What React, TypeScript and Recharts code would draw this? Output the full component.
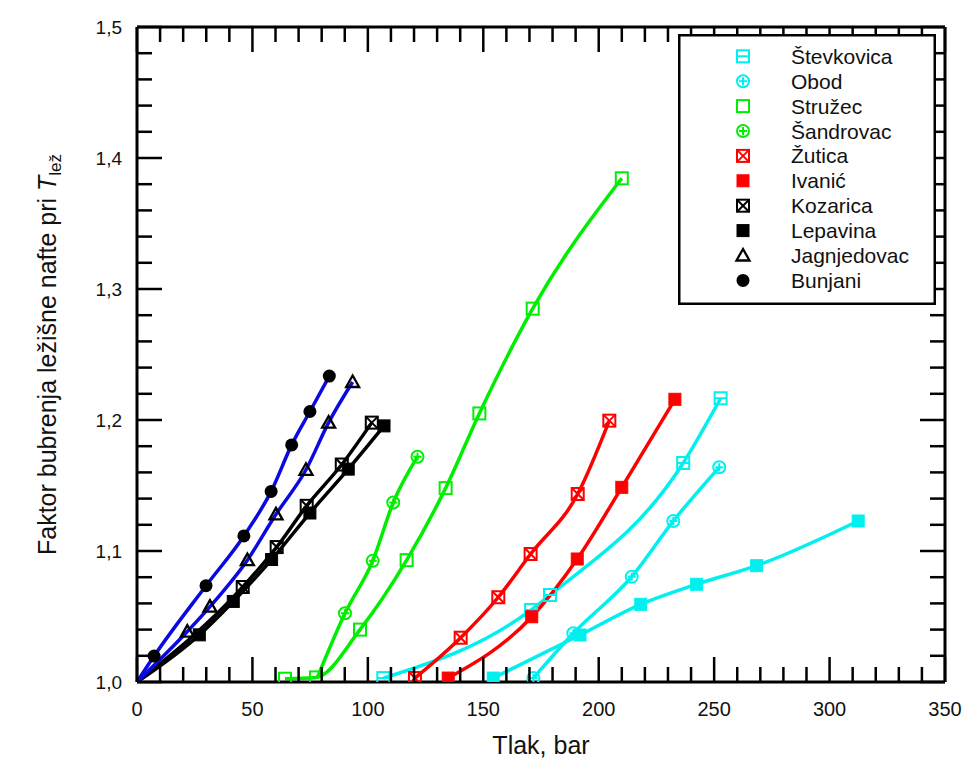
import React from 'react';
import { LineChart, Line, XAxis, YAxis, Legend, ReferenceLine } from 'recharts';

// axis ticks
const xTicks = [0, 10, 20, 30, 40, 50, 60, 70, 80, 90, 100, 110, 120, 130, 140, 150, 160, 170, 180, 190, 200, 210, 220, 230, 240, 250, 260, 270, 280, 290, 300, 310, 320, 330, 340, 350];
const yTicks = [1.0, 1.02, 1.04, 1.06, 1.08, 1.1, 1.12, 1.14, 1.16, 1.18, 1.2, 1.22, 1.24, 1.26, 1.28, 1.3, 1.32, 1.34, 1.36, 1.38, 1.4, 1.42, 1.44, 1.46, 1.48, 1.5];

// tlak (bar) / faktor bubrenja per polje
const stevkovicaP = [106.7, 170.7, 178.9, 236.6, 252.8];
const stevkovicaB = [1.003, 1.055, 1.0664, 1.1672, 1.2166];
const stevkovica2P = [154.3, 191.9, 218.2, 242.4, 268.4, 312.4];
const stevkovica2B = [1.003, 1.0359, 1.0593, 1.0746, 1.0888, 1.1229];
const obodP = [171.7, 189.0, 214.3, 232.3, 252.2];
const obodB = [1.003, 1.0372, 1.0804, 1.1229, 1.1639];
const struzecP = [64.1, 77.5, 96.6, 116.8, 133.7, 148.3, 171.4, 210.0];
const struzecB = [1.0025, 1.0035, 1.040, 1.093, 1.148, 1.205, 1.285, 1.3845];
const sandrovacP = [78, 90.1, 102.1, 111.0, 121.5];
const sandrovacB = [1.003, 1.0525, 1.0925, 1.137, 1.172];
const huticaP = [120.4, 140.2, 156.5, 170.5, 190.9, 204.6];
const huticaB = [1.003, 1.0338, 1.0647, 1.0977, 1.1435, 1.1995];
const ivanicP = [134.8, 171.0, 190.7, 210.0, 233.0];
const ivanicB = [1.003, 1.0498, 1.0939, 1.1486, 1.2158];
const kozaricaP = [0, 45.8, 60.5, 73.5, 88.7, 101.7];
const kozaricaB = [1.0, 1.0725, 1.103, 1.1345, 1.166, 1.198];
const lepavinaP = [0, 27.0, 41.7, 58.3, 74.9, 91.5, 107.0];
const lepavinaB = [1.0, 1.036, 1.0615, 1.0935, 1.129, 1.1625, 1.1955];
const jagnjedovacP = [0, 21.8, 31.6, 47.8, 60.2, 73.2, 83.0, 93.4];
const jagnjedovacB = [1.0, 1.0385, 1.0575, 1.093, 1.128, 1.162, 1.198, 1.229];
const bunjaniP = [0, 7.4, 29.9, 46.3, 58.1, 67.0, 74.9, 83.3];
const bunjaniB = [1.0, 1.0198, 1.0735, 1.1115, 1.1455, 1.181, 1.2065, 1.2335];

const CYAN = '#00f0f0';
const GREEN = '#00ee00';
const RED = '#ff0000';
const BLUE = '#0a0ae0';
const BLACK = '#000000';
const FONT = '"Liberation Sans", Arial, sans-serif';

// chart box
const W = 960;
const H = 755;
const M = { top: 19, right: 23, bottom: 0, left: 0 };
const Y_AXIS_W = 129;
const X_AXIS_H = 81;
const PLOT_W = W - M.left - M.right - Y_AXIS_W;
const PLOT_H = H - M.top - M.bottom - X_AXIS_H;

const zip = (p: number[], b: number[]) => p.map((v, i) => ({ p: v, b: b[i] }));

type Kind = 'squareBar' | 'circleCross' | 'square' | 'squareX' | 'squareFill' | 'triangle' | 'circleFill';

const series = [
  { name: 'Števkovica', data: zip(stevkovicaP, stevkovicaB), line: CYAN, mark: CYAN, kind: 'squareBar', legend: true, skipFirst: false },
  { name: 'Števkovica 2', data: zip(stevkovica2P, stevkovica2B), line: CYAN, mark: CYAN, kind: 'squareFill', legend: false, skipFirst: false },
  { name: 'Obod', data: zip(obodP, obodB), line: CYAN, mark: CYAN, kind: 'circleCross', legend: true, skipFirst: false },
  { name: 'Stružec', data: zip(struzecP, struzecB), line: GREEN, mark: GREEN, kind: 'square', legend: true, skipFirst: false },
  { name: 'Šandrovac', data: zip(sandrovacP, sandrovacB), line: GREEN, mark: GREEN, kind: 'circleCross', legend: true, skipFirst: true },
  { name: 'Žutica', data: zip(huticaP, huticaB), line: RED, mark: RED, kind: 'squareX', legend: true, skipFirst: false },
  { name: 'Ivanić', data: zip(ivanicP, ivanicB), line: RED, mark: RED, kind: 'squareFill', legend: true, skipFirst: false },
  { name: 'Kozarica', data: zip(kozaricaP, kozaricaB), line: BLACK, mark: BLACK, kind: 'squareX', legend: true, skipFirst: true },
  { name: 'Lepavina', data: zip(lepavinaP, lepavinaB), line: BLACK, mark: BLACK, kind: 'squareFill', legend: true, skipFirst: true },
  { name: 'Jagnjedovac', data: zip(jagnjedovacP, jagnjedovacB), line: BLUE, mark: BLACK, kind: 'triangle', legend: true, skipFirst: true },
  { name: 'Bunjani', data: zip(bunjaniP, bunjaniB), line: BLUE, mark: BLACK, kind: 'circleFill', legend: true, skipFirst: true },
];

function Marker({ kind, color, cx, cy }: { kind: string; color: string; cx: number; cy: number }) {
  const s = 6;
  const st = { stroke: color, strokeWidth: 2 };
  switch (kind as Kind) {
    case 'square':
      return <rect x={cx - s} y={cy - s} width={2 * s} height={2 * s} fill="none" {...st} />;
    case 'squareBar':
      return (
        <g>
          <rect x={cx - s} y={cy - s} width={2 * s} height={2 * s} fill="none" {...st} />
          <line x1={cx - s} x2={cx + s} y1={cy} y2={cy} {...st} />
        </g>
      );
    case 'squareX':
      return (
        <g>
          <rect x={cx - s} y={cy - s} width={2 * s} height={2 * s} fill="none" {...st} />
          <line x1={cx - s} x2={cx + s} y1={cy - s} y2={cy + s} {...st} />
          <line x1={cx - s} x2={cx + s} y1={cy + s} y2={cy - s} {...st} />
        </g>
      );
    case 'squareFill':
      return <rect x={cx - s} y={cy - s} width={2 * s} height={2 * s} fill={color} stroke={color} strokeWidth={1} />;
    case 'circleCross':
      return (
        <g>
          <circle cx={cx} cy={cy} r={s} fill="none" {...st} />
          <line x1={cx - 4} x2={cx + 4} y1={cy} y2={cy} {...st} />
          <line x1={cx} x2={cx} y1={cy - 4} y2={cy + 4} {...st} />
        </g>
      );
    case 'circleFill':
      return <circle cx={cx} cy={cy} r={6.5} fill={color} />;
    case 'triangle':
      return (
        <polygon
          points={`${cx},${cy - 6.5} ${cx + 6.5},${cy + 5} ${cx - 6.5},${cy + 5}`}
          fill="none"
          stroke={color}
          strokeWidth={2.3}
        />
      );
  }
  return null;
}

const TICK = { stroke: '#000', strokeWidth: 2.5 };
const isMajorX = (v: number) => v % 50 === 0;
const isMajorY = (v: number) => Math.round(v * 100) % 10 === 0;

// bottom tick + matching tick on the top edge of the frame
function XTick(props: any) {
  const { x, y, payload } = props;
  const len = isMajorX(payload.value) ? 25 : 15;
  const top = y - PLOT_H;
  return (
    <g>
      <line x1={x} x2={x} y1={y} y2={y - len} {...TICK} />
      <line x1={x} x2={x} y1={top} y2={top + len} {...TICK} />
      {isMajorX(payload.value) && (
        <text x={x} y={y + 34} textAnchor="middle" fontSize={20} fontFamily={FONT} fill="#111">
          {payload.value}
        </text>
      )}
    </g>
  );
}

// left tick + matching tick on the right edge of the frame
function YTick(props: any) {
  const { x, y, payload } = props;
  const len = isMajorY(payload.value) ? 25 : 15;
  const right = x + PLOT_W;
  return (
    <g>
      <line x1={x} x2={x + len} y1={y} y2={y} {...TICK} />
      <line x1={right} x2={right - len} y1={y} y2={y} {...TICK} />
      {isMajorY(payload.value) && (
        <text x={x - 15} y={y} dy="0.36em" textAnchor="end" fontSize={19} fontFamily={FONT} fill="#111">
          {payload.value.toFixed(1).replace('.', ',')}
        </text>
      )}
    </g>
  );
}

function XTitle(props: any) {
  const vb = props.viewBox;
  return (
    <text x={vb.x + vb.width / 2} y={vb.y + 72} textAnchor="middle" fontSize={25} fontFamily={FONT} fill="#111">
      Tlak, bar
    </text>
  );
}

function YTitle(props: any) {
  const vb = props.viewBox;
  const cx = vb.x + 48;
  const cy = vb.y + vb.height / 2;
  return (
    <text
      x={cx}
      y={cy}
      transform={`rotate(-90 ${cx} ${cy})`}
      textAnchor="middle"
      fontSize={25}
      fontFamily={FONT}
      fill="#111"
    >
      Faktor bubrenja ležišne nafte pri <tspan fontStyle="italic">T</tspan>
      <tspan fontSize={17} dy={5}>lež</tspan>
    </text>
  );
}

function LegendBox() {
  const items = series.filter((s) => s.legend);
  return (
    <svg width={258} height={271} style={{ display: 'block' }}>
      <rect x={1.25} y={1.25} width={255.5} height={268.5} fill="#fff" stroke="#000" strokeWidth={2.5} />
      {items.map((s, i) => {
        const cy = 22.3 + i * 24.9;
        return (
          <g key={s.name}>
            <Marker kind={s.kind} color={s.mark} cx={65} cy={cy} />
            <text x={113} y={cy} dy="0.36em" fontSize={21} fontFamily={FONT} fill="#111">
              {s.name}
            </text>
          </g>
        );
      })}
    </svg>
  );
}

const axisLine = { stroke: '#000', strokeWidth: 3 };

export default function App() {
  return (
    <div style={{ width: W, height: H, background: '#fff' }}>
      <LineChart width={W} height={H} margin={M}>
        <XAxis
          xAxisId="bottom"
          dataKey="p"
          type="number"
          domain={[0, 350]}
          ticks={xTicks}
          interval={0}
          tickSize={0}
          tickMargin={0}
          tickLine={false}
          axisLine={axisLine}
          height={X_AXIS_H}
          tick={<XTick />}
          label={{ content: XTitle }}
        />
        <YAxis
          yAxisId="left"
          type="number"
          domain={[1.0, 1.5]}
          ticks={yTicks}
          interval={0}
          allowDataOverflow
          tickSize={0}
          tickMargin={0}
          tickLine={false}
          axisLine={axisLine}
          width={Y_AXIS_W}
          tick={<YTick />}
          label={{ content: YTitle }}
        />
        <ReferenceLine xAxisId="bottom" yAxisId="left" y={1.5} stroke="#000" strokeWidth={3} />
        <ReferenceLine xAxisId="bottom" yAxisId="left" x={350} stroke="#000" strokeWidth={3} />
        <Legend
          layout="vertical"
          align="center"
          verticalAlign="middle"
          content={() => <LegendBox />}
          wrapperStyle={{ left: 670, top: 26, width: 258, height: 271 }}
        />
        {series.map((s) => (
          <Line
            key={s.name}
            name={s.name}
            data={s.data}
            dataKey="b"
            xAxisId="bottom"
            yAxisId="left"
            type="monotone"
            stroke={s.line}
            strokeWidth={3.5}
            isAnimationActive={false}
            activeDot={false}
            legendType="none"
            dot={(props: any) => {
              const { cx, cy, index } = props;
              const k = `${s.name}-${index}`;
              if (s.skipFirst && index === 0) return <g key={k} />;
              return (
                <g key={k}>
                  <Marker kind={s.kind} color={s.mark} cx={cx} cy={cy} />
                </g>
              );
            }}
          />
        ))}
      </LineChart>
    </div>
  );
}
